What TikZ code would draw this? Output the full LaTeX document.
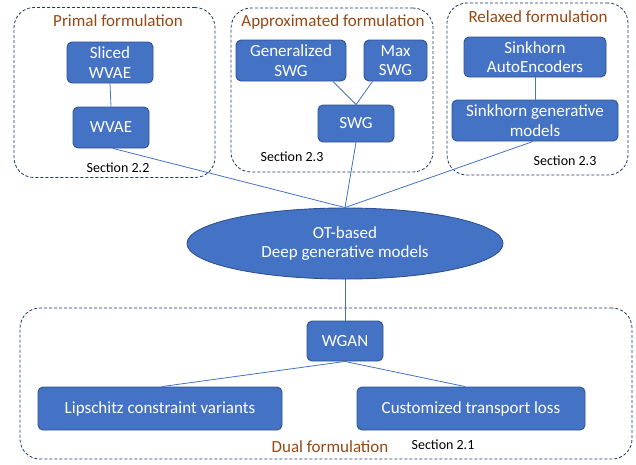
\documentclass[tikz,border=0pt]{standalone}
\usepackage{fontspec}
\setmainfont{Carlito}
\usetikzlibrary{shapes.geometric,calc}
\definecolor{boxfill}{HTML}{4472C4}
\definecolor{boxline}{HTML}{2F528F}
\definecolor{grpline}{HTML}{203864}
\definecolor{ttl}{RGB}{150,72,20}
\tikzset{
  bluebox/.style={draw=boxline,fill=boxfill,line width=0.9pt,rounded corners=5pt,text=white,
    align=center,font=\fontsize{17}{19.5}\selectfont,inner sep=0pt},
  grp/.style={draw=grpline,dashed,dash pattern=on 3pt off 2pt,line width=0.8pt,rounded corners=20pt,inner sep=0pt},
  grptitle/.style={text=ttl,font=\fontsize{17}{19}\selectfont,inner sep=0pt},
  sect/.style={text=black,font=\fontsize{14}{16}\selectfont,inner sep=0pt},
  conn/.style={draw=boxfill,line width=0.8pt}
}
\begin{document}
\begin{tikzpicture}[x=1pt,y=-1pt]
\useasboundingbox (0,0) rectangle (636,464);
% groups
\node[grp,minimum width=201pt,minimum height=170pt] (primal) at (114.5,92.5) {};
\node[grp,minimum width=202pt,minimum height=164pt] (approx) at (332,90) {};
\node[grp,minimum width=181pt,minimum height=172pt] (relaxed) at (537.5,89) {};
\node[grp,minimum width=612pt,minimum height=151pt] (dual) at (326,383.5) {};
% titles
\node[grptitle] (tprimal) at (118,21) {Primal formulation};
\node[grptitle] (tapprox) at (333,22) {Approximated formulation};
\node[grptitle] (trelaxed) at (538,17) {Relaxed formulation};
\node[grptitle] (tdual) at (330,447) {Dual formulation};
\node[sect] (s22) at (118,168) {Section 2.2};
\node[sect] (s23a) at (292,157) {Section 2.3};
\node[sect] (s23b) at (565,161) {Section 2.3};
\node[sect] (s21) at (443,445) {Section 2.1};
% boxes
\node[bluebox,minimum width=86pt,minimum height=41pt] (slicedwvae) at (110,62.5) {Sliced\\WVAE};
\node[bluebox,minimum width=76pt,minimum height=41pt] (wvae) at (111,127.5) {WVAE};
\node[bluebox,minimum width=110pt,minimum height=41pt] (gswg) at (291,60.5) {Generalized\\SWG};
\node[bluebox,minimum width=63pt,minimum height=41pt] (maxswg) at (395.5,60.5) {Max\\SWG};
\node[bluebox,minimum width=76pt,minimum height=37pt] (swg) at (356,123.5) {SWG};
\node[bluebox,minimum width=142pt,minimum height=40pt] (sae) at (535,57) {Sinkhorn\\AutoEncoders};
\node[bluebox,minimum width=166pt,minimum height=41pt] (sgm) at (535,120.5) {Sinkhorn generative\\models};
\node[ellipse,draw=boxline,fill=boxfill,line width=0.9pt,text=white,align=center,
  font=\fontsize{17}{19}\selectfont,inner sep=0pt,minimum width=316pt,minimum height=71pt] (ot) at (345,243.5) {OT-based\\Deep generative models};
\node[bluebox,minimum width=76pt,minimum height=40pt] (wgan) at (345,341) {WGAN};
\node[bluebox,minimum width=244pt,minimum height=43pt] (lip) at (160,408.5) {Lipschitz constraint variants};
\node[bluebox,minimum width=228pt,minimum height=43pt] (ctl) at (471,408.5) {Customized transport loss};
% connectors
\draw[conn] (slicedwvae.south) -- (wvae.north);
\draw[conn] ([xshift=42pt]gswg.south) -- (swg.north);
\draw[conn] ([xshift=-23pt]maxswg.south) -- (swg.north);
\draw[conn] (sae.south) -- (sgm.north);
\draw[conn] ([xshift=2pt]wvae.south) -- (ot.north);
\draw[conn] (swg.south) -- (ot.north);
\draw[conn] ([xshift=-2pt]sgm.south) -- (ot.north);
\draw[conn] (ot.south) -- (wgan.north);
\draw[conn] (wgan.south) -- ([xshift=2pt]lip.north);
\draw[conn] (wgan.south) -- ([xshift=-6pt]ctl.north);
\end{tikzpicture}
\end{document}
